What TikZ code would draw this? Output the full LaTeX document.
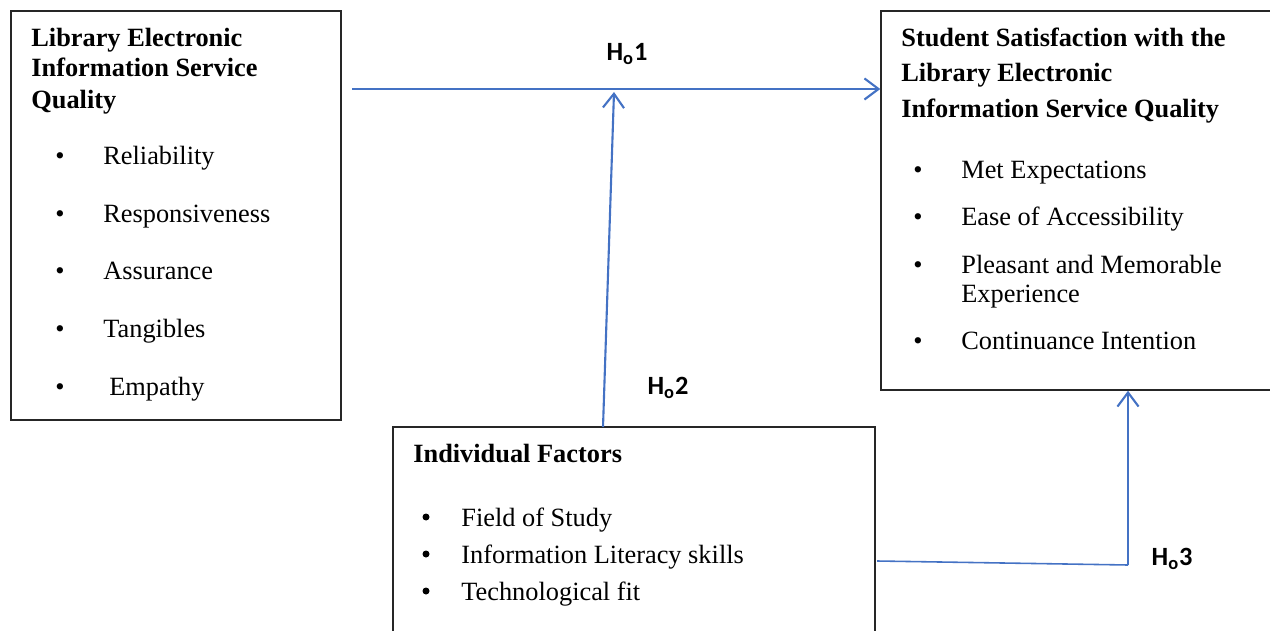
\documentclass[tikz,border=0pt]{standalone}
\usepackage{fontspec}
\setmainfont{Liberation Serif}
\newfontfamily\hypfont{Carlito}
\usetikzlibrary{arrows.meta,fit}
\definecolor{linkblue}{RGB}{68,114,196}
\begin{document}
\begin{tikzpicture}[x=0.02cm,y=-0.02cm,
	box/.style={draw=black!85,line width=0.85pt,inner sep=0pt},
	txt/.style={anchor=mid west,inner sep=0pt,yshift=-0.1cm,font=\fontsize{15}{18}\selectfont},
	head/.style={anchor=mid west,inner sep=0pt,yshift=-0.1cm,font=\fontsize{15}{18}\selectfont\bfseries},
	dot/.style={anchor=center,inner sep=0pt,yshift=-0.08cm,font=\fontsize{15}{18}\selectfont},
	bigdot/.style={circle,fill=black,inner sep=0pt,minimum size=0.14cm},
	hyp/.style={inner sep=0pt,yshift=-0.04cm,font=\hypfont\fontsize{15}{18}\selectfont\bfseries},
	link/.style={draw=linkblue,line width=1.2pt,-{Straight Barb[length=8pt,width=12pt,line width=1.2pt]}}]
	\useasboundingbox (0,0) rectangle (1270,631);
	\clip (0,0) rectangle (1270,631);
	\node[box,fit={(11,11) (341,420)}] (lib) {};
	\node[box,fit={(881,11) (1290,390)}] (sat) {};
	\node[box,fit={(393,427) (875,650)}] (fac) {};
	\foreach \y/\t [count=\n] in {37/Library Electronic, 67/Information Service, 99/Quality}
		\node[head] (libT\n) at (31,\y) {\t};
	\foreach \y/\x/\t [count=\n] in {155/103/Reliability, 213/103/Responsiveness, 270/103/Assurance,
		328/103/Tangibles, 386/109/Empathy}{
		\node[dot] (libB\n) at (60,\y) {•};
		\node[txt] (libI\n) at (\x,\y) {\t};
	}
	\foreach \y/\t [count=\n] in {37/Student Satisfaction with the, 72/Library Electronic,
		108/Information Service Quality}
		\node[head] (satT\n) at (901,\y) {\t};
	\foreach \y/\t [count=\n] in {169/Met Expectations, 216/Ease of Accessibility,
		264/Pleasant and Memorable, 340/Continuance Intention}{
		\node[dot] (satB\n) at (918,\y) {•};
		\node[txt] (satI\n) at (961,\y) {\t};
	}
	\node[txt] (satI5) at (961,293) {Experience};
	\node[head] (facT) at (413,453) {Individual Factors};
	\foreach \y/\t [count=\n] in {517/Field of Study, 554/Information Literacy skills, 591/Technological fit}{
		\node[bigdot] (facB\n) at (426,\y) {};
		\node[txt] (facI\n) at (461,\y) {\t};
	}
	\coordinate (h1s) at (352,89);
	\coordinate (h2s) at (603,427);
	\coordinate (h2e) at (614,92);
	\coordinate (h3s) at (877,561);
	\coordinate (h3k) at (1128,565);
	\draw[link] (h1s) -- (h1s -| sat.west);
	\draw[link] (h2s) -- (h2e);
	\draw[linkblue,line width=0.9pt] (h3s) -- (h3k);
	\draw[link] (h3k) -- (h3k |- sat.south);
	\node[hyp] (ho1) at (627,52) {H\textsubscript{o}1};
	\node[hyp] (ho2) at (668,386) {H\textsubscript{o}2};
	\node[hyp] (ho3) at (1172,557) {H\textsubscript{o}3};
\end{tikzpicture}
\end{document}
